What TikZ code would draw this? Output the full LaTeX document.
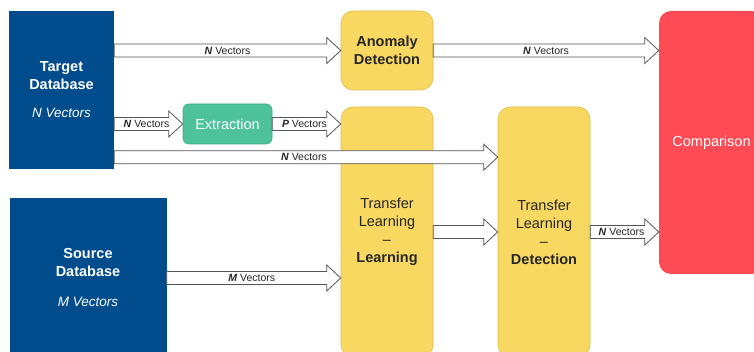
\documentclass[tikz,border=0pt]{standalone}
\usepackage{fontspec}
\setmainfont{Liberation Sans}
\usetikzlibrary{calc}

\definecolor{dbblue}{HTML}{014C8D}
\definecolor{stageyellow}{HTML}{F9D862}
\definecolor{stageedge}{HTML}{DDBB4C}
\definecolor{extgreen}{HTML}{4DC29B}
\definecolor{extedge}{HTML}{3AA883}
\definecolor{cmpred}{HTML}{FE4B55}
\definecolor{arrowedge}{HTML}{555555}

\tikzset{
	dbbox/.style={fill=dbblue,text=white,align=center,inner sep=0pt,font=\fontsize{14.5}{17.5}\selectfont},
	stagebox/.style={fill=stageyellow,draw=stageedge,line width=0.6pt,rounded corners=12pt,align=center,inner sep=0pt,text=black!85,font=\fontsize{14.5}{18}\selectfont},
	vlabel/.style={inner sep=0pt,text=black!85,font=\fontsize{10.5}{11}\selectfont},
	fat arrow/.style={fill=white,draw=arrowedge,line width=0.8pt,line join=miter,
		to path={let \p1=(\tikztostart), \p2=(\tikztotarget) in
			(\x1,\y1+6.5pt) -- (\x2-14pt,\y1+6.5pt) -- (\x2-14pt,\y1+13pt) -- (\x2,\y1)
			-- (\x2-14pt,\y1-13pt) -- (\x2-14pt,\y1-6.5pt) -- (\x1,\y1-6.5pt) -- cycle}}
}
\newcommand{\vecs}[1]{\textbf{\textit{#1}} Vectors}

\begin{document}
\begin{tikzpicture}[x=1pt,y=-1pt]
		\clip (0,0) rectangle (754,352);
		% databases
		\node[dbbox,minimum width=105pt,minimum height=158pt] (tgt) at (61.5,90) {\textbf{Target}\\\textbf{Database}\\[11pt]\fontsize{13.5}{17}\selectfont\textit{N Vectors}};
		\node[dbbox,minimum width=157pt,minimum height=160pt] (src) at (88,278) {\textbf{Source}\\\textbf{Database}\\[13pt]\fontsize{13.5}{17}\selectfont\textit{M Vectors}};
		% stages
		\node[stagebox,minimum width=92pt,minimum height=79pt] (ad) at (387,50.5) {\textbf{Anomaly}\\\textbf{Detection}};
		\node[fill=extgreen,draw=extedge,line width=0.6pt,rounded corners=6pt,text=white,inner sep=0pt,minimum width=89pt,minimum height=40pt,font=\fontsize{14.5}{17}\selectfont] (ext) at (227.5,124) {Extraction};
		\node[stagebox,minimum width=92pt,minimum height=250pt] (tll) at (387,232) {Transfer\\Learning\\--\\\textbf{Learning}};
		\node[stagebox,minimum width=92pt,minimum height=250pt] (tld) at (544,232) {Transfer\\Learning\\--\\\textbf{Detection}};
		\node[fill=cmpred,rounded corners=12pt,text=white,inner sep=0pt,minimum width=105pt,minimum height=263pt,font=\fontsize{14.5}{17}\selectfont] (cmp) at (711.5,142.5) {Comparison};
		% connectors
		\coordinate (tgtlow) at ([yshift=12pt]tgt.south east);
		\draw[fat arrow] (tgt.east |- ad.west) to (ad.west);
		\path (tgt.east |- ad.west) -- node[vlabel]{\vecs{N}} (ad.west);
		\draw[fat arrow] (ad.east) to (ad.east -| cmp.west);
		\path (ad.east) -- node[vlabel]{\vecs{N}} (ad.east -| cmp.west);
		\draw[fat arrow] (tgt.east |- ext.west) to (ext.west);
		\path (tgt.east |- ext.west) -- node[vlabel,xshift=-2pt]{\vecs{N}} (ext.west);
		\draw[fat arrow] (ext.east) to (ext.east -| tll.west);
		\path (ext.east) -- node[vlabel,xshift=-2pt]{\vecs{P}} (ext.east -| tll.west);
		\draw[fat arrow] (tgtlow) to (tgtlow -| tld.west);
		\path (tgtlow) -- node[vlabel,xshift=-2pt]{\vecs{N}} (tgtlow -| tld.west);
		\draw[fat arrow] (src.east) to (src.east -| tll.west);
		\path (src.east) -- node[vlabel,xshift=-2pt]{\vecs{M}} (src.east -| tll.west);
		\draw[fat arrow] (tll.east) to (tld.west);
		\draw[fat arrow] (tld.east) to (tld.east -| cmp.west);
		\path (tld.east) -- node[vlabel,xshift=-3pt]{\vecs{N}} (tld.east -| cmp.west);
	\end{tikzpicture}
\end{document}
